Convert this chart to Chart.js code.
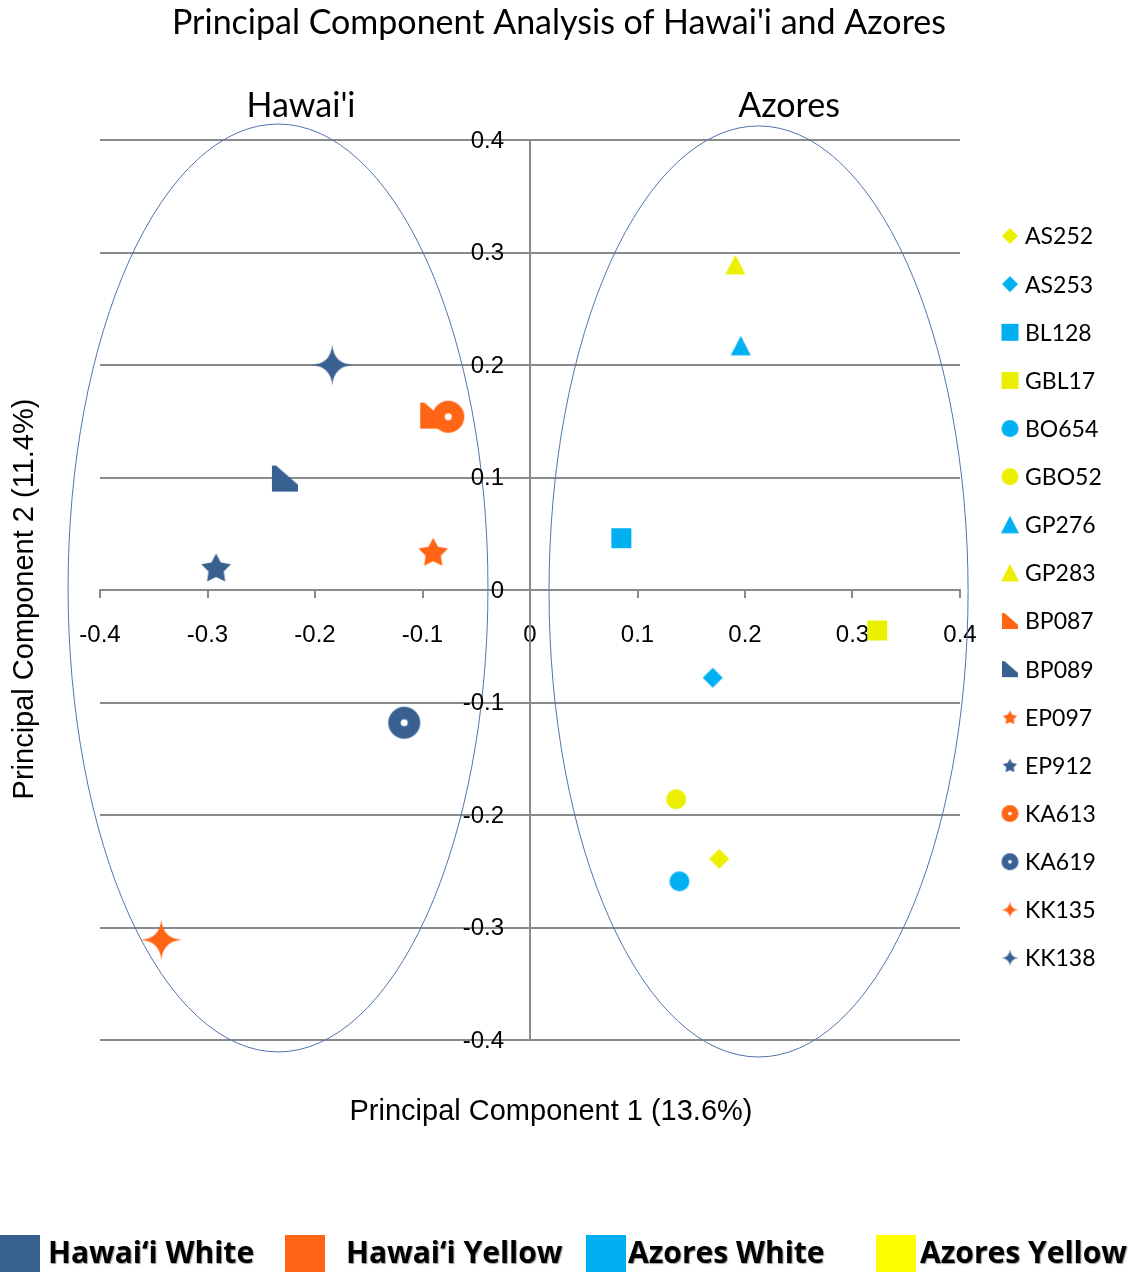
<!DOCTYPE html>
<html>
<head>
<meta charset="utf-8">
<script src="https://cdn.jsdelivr.net/npm/chart.js@4.4.0/dist/chart.umd.min.js"></script>
<style>
  body { margin: 0; background: #fff; }
</style>
</head>
<body>
<canvas id="pca-chart" width="1134" height="1272"></canvas>
<script>
// sample data
const samples = ['AS252', 'AS253', 'BL128', 'GBL17', 'BO654', 'GBO52', 'GP276', 'GP283',
                 'BP087', 'BP089', 'EP097', 'EP912', 'KA613', 'KA619', 'KK135', 'KK138'];
const pc1 = [0.176, 0.170, 0.085, 0.323, 0.139, 0.136, 0.196, 0.191,
             -0.090, -0.228, -0.090, -0.292, -0.076, -0.117, -0.343, -0.184];
const pc2 = [-0.239, -0.078, 0.046, -0.036, -0.259, -0.186, 0.217, 0.289,
             0.155, 0.099, 0.034, 0.020, 0.154, -0.118, -0.311, 0.200];
const sampleGroup = ['Azores Yellow', 'Azores White', 'Azores White', 'Azores Yellow',
                     'Azores White', 'Azores Yellow', 'Azores White', 'Azores Yellow',
                     'Hawai‘i Yellow', 'Hawai‘i White', 'Hawai‘i Yellow', 'Hawai‘i White',
                     'Hawai‘i Yellow', 'Hawai‘i White', 'Hawai‘i Yellow', 'Hawai‘i White'];
const sampleShape = ['diamond', 'diamond', 'square', 'square', 'circle', 'circle', 'triangle', 'triangle',
                     'corner', 'corner', 'star', 'star', 'ring', 'ring', 'spark', 'spark'];
const groups = ['Hawai‘i White', 'Hawai‘i Yellow', 'Azores White', 'Azores Yellow'];
const axisTicks = [-0.4, -0.3, -0.2, -0.1, 0, 0.1, 0.2, 0.3, 0.4];

const chartTitle = 'Principal Component Analysis of Hawai\'i and Azores';
const xTitle = 'Principal Component 1 (13.6%)';
const yTitle = 'Principal Component 2 (11.4%)';

// ellipses round each island group, in data units
const regions = [
  { name: 'Hawai\'i', cx: -0.2344, cy: 0.0018, rx: 0.1953, ry: 0.4124, labelX: -0.213 },
  { name: 'Azores', cx: 0.2126, cy: -0.0013, rx: 0.1949, ry: 0.4138, labelX: 0.241 }
];

function markerColor(group) {
  if (group === 'Hawai‘i White') return '#386192';
  if (group === 'Hawai‘i Yellow') return '#FF6514';
  if (group === 'Azores White') return '#00B0F0';
  if (group === 'Azores Yellow') return '#EBF000';
}

function swatchColor(group) {
  if (group === 'Azores Yellow') return '#FFFF00';
  return markerColor(group);
}

function plotSize(shape) {
  return { diamond: 20, square: 20, circle: 20, triangle: 20, corner: 26, star: 31, ring: 32, spark: 41 }[shape];
}

function legendSize(shape) {
  return { diamond: 16, square: 17, circle: 17, triangle: 18, corner: 16, star: 15, ring: 17, spark: 17 }[shape];
}

// draws one marker shape into its own small canvas, used as pointStyle
function makeMarker(shape, color, s) {
  const cv = document.createElement('canvas');
  cv.width = s + 4;
  cv.height = s + 4;
  const ctx = cv.getContext('2d');
  const c = cv.width / 2;
  const h = s / 2;
  ctx.fillStyle = color;
  ctx.beginPath();
  if (shape === 'diamond') {
    ctx.moveTo(c, c - h); ctx.lineTo(c + h, c); ctx.lineTo(c, c + h); ctx.lineTo(c - h, c);
  } else if (shape === 'square') {
    ctx.rect(c - h, c - h, s, s);
  } else if (shape === 'circle') {
    ctx.arc(c, c, h, 0, Math.PI * 2);
  } else if (shape === 'triangle') {
    ctx.moveTo(c, c - h); ctx.lineTo(c + h, c + h * 0.95); ctx.lineTo(c - h, c + h * 0.95);
  } else if (shape === 'corner') {
    ctx.moveTo(c - h, c - h);
    ctx.lineTo(c - h + s * 0.16, c - h);
    ctx.lineTo(c + h, c - h + s * 0.73);
    ctx.lineTo(c + h, c + h);
    ctx.lineTo(c - h, c + h);
  } else if (shape === 'star') {
    for (let i = 0; i < 10; i++) {
      const r = i % 2 === 0 ? h : h * 0.52;
      const a = -Math.PI / 2 + i * Math.PI / 5;
      const px = c + r * Math.cos(a);
      const py = c + h * 0.1 + r * Math.sin(a);
      if (i === 0) ctx.moveTo(px, py); else ctx.lineTo(px, py);
    }
  } else if (shape === 'ring') {
    ctx.arc(c, c, h, 0, Math.PI * 2);
    ctx.moveTo(c + s * 0.11, c);
    ctx.arc(c, c, s * 0.11, 0, Math.PI * 2, true);
  } else if (shape === 'spark') {
    const k = s * 0.035;
    ctx.moveTo(c, c - h);
    ctx.quadraticCurveTo(c + k, c - k, c + h, c);
    ctx.quadraticCurveTo(c + k, c + k, c, c + h);
    ctx.quadraticCurveTo(c - k, c + k, c - h, c);
    ctx.quadraticCurveTo(c - k, c - k, c, c - h);
  }
  ctx.closePath();
  ctx.fill('evenodd');
  return cv;
}

const legendMarkers = samples.map((name, i) =>
  makeMarker(sampleShape[i], markerColor(sampleGroup[i]), legendSize(sampleShape[i])));

const datasets = samples.map((name, i) => ({
  label: name,
  data: [{ x: pc1[i], y: pc2[i] }],
  pointStyle: makeMarker(sampleShape[i], markerColor(sampleGroup[i]), plotSize(sampleShape[i])),
  pointRadius: 10,
  order: samples.length - i
}));

const fmt = v => (Math.abs(v) < 1e-9 ? '0' : v.toFixed(1));

const decorations = {
  id: 'decorations',
  beforeDatasetsDraw(chart) {
    const ctx = chart.ctx;
    const xs = chart.scales.x;
    const ys = chart.scales.y;
    ctx.save();
    ctx.strokeStyle = '#5075AA';
    ctx.lineWidth = 1;
    regions.forEach(reg => {
      const cx = xs.getPixelForValue(reg.cx);
      const cy = ys.getPixelForValue(reg.cy);
      const rx = Math.abs(xs.getPixelForValue(reg.cx + reg.rx) - cx);
      const ry = Math.abs(ys.getPixelForValue(reg.cy + reg.ry) - cy);
      ctx.beginPath();
      ctx.ellipse(cx, cy, rx, ry, 0, 0, Math.PI * 2);
      ctx.stroke();
    });
    ctx.restore();
  },
  afterDraw(chart) {
    const ctx = chart.ctx;
    const xs = chart.scales.x;
    const ys = chart.scales.y;
    const area = chart.chartArea;
    ctx.save();
    ctx.fillStyle = '#000';
    ctx.textBaseline = 'middle';

    // y tick labels sit left of the zero axis
    ctx.textAlign = 'right';
    ctx.font = '24px "Liberation Sans"';
    const axisX = xs.getPixelForValue(0);
    axisTicks.forEach(v => {
      ctx.fillText(fmt(v), axisX - 26, ys.getPixelForValue(v) + 1);
    });

    ctx.textAlign = 'center';
    ctx.font = '34px Lato';
    ctx.fillText(chartTitle, 559, 23);
    regions.forEach(reg => {
      ctx.fillText(reg.name, xs.getPixelForValue(reg.labelX), area.top - 34);
    });

    ctx.font = '29px "Liberation Sans"';
    ctx.fillText(xTitle, 551, 1112);
    ctx.save();
    ctx.translate(25, 599);
    ctx.rotate(-Math.PI / 2);
    ctx.fillText(yTitle, 0, 0);
    ctx.restore();

    // sample legend on the right
    ctx.textAlign = 'left';
    ctx.font = '23px Lato';
    samples.forEach((name, i) => {
      const y = 236 + i * 48.13;
      const m = legendMarkers[i];
      ctx.drawImage(m, 1010 - m.width / 2, y - m.height / 2);
      ctx.fillText(name, 1025, y + 1);
    });

    // group colour key along the bottom
    const keyX = [0, 285, 586, 876];
    const textX = [48, 346, 628, 920];
    ctx.font = 'bold 30px "Open Sans"';
    groups.forEach((g, i) => {
      ctx.fillStyle = swatchColor(g);
      ctx.fillRect(keyX[i], 1235, 40, 40);
      ctx.save();
      ctx.fillStyle = '#000';
      ctx.shadowColor = 'rgba(0,0,0,0.4)';
      ctx.shadowOffsetX = 1;
      ctx.shadowOffsetY = 1;
      ctx.shadowBlur = 1;
      ctx.fillText(g, textX[i], 1254);
      ctx.restore();
    });
    ctx.restore();
  }
};

new Chart(document.getElementById('pca-chart').getContext('2d'), {
  type: 'scatter',
  data: { datasets: datasets },
  options: {
    responsive: false,
    animation: false,
    layout: { padding: { left: 100, right: 174, top: 140, bottom: 232 } },
    plugins: {
      legend: { display: false },
      title: { display: false },
      tooltip: { enabled: false }
    },
    scales: {
      x: {
        type: 'linear',
        min: -0.4,
        max: 0.4,
        position: { y: 0 },
        afterBuildTicks: axis => { axis.ticks = axisTicks.map(v => ({ value: v })); },
        grid: { drawOnChartArea: false, drawTicks: true, tickLength: 7, color: '#8a8a8a', lineWidth: 2 },
        border: { display: true, color: '#8a8a8a', width: 2 },
        ticks: {
          callback: fmt,
          color: '#000',
          padding: 24,
          maxRotation: 0,
          font: { family: '"Liberation Sans"', size: 24 }
        }
      },
      y: {
        type: 'linear',
        min: -0.4,
        max: 0.4,
        position: { x: 0 },
        afterBuildTicks: axis => { axis.ticks = axisTicks.map(v => ({ value: v })); },
        grid: { drawOnChartArea: true, drawTicks: false, color: '#8a8a8a', lineWidth: 2 },
        border: { display: true, color: '#8a8a8a', width: 2 },
        ticks: { display: false }
      }
    }
  },
  plugins: [decorations]
});
</script>
</body>
</html>
